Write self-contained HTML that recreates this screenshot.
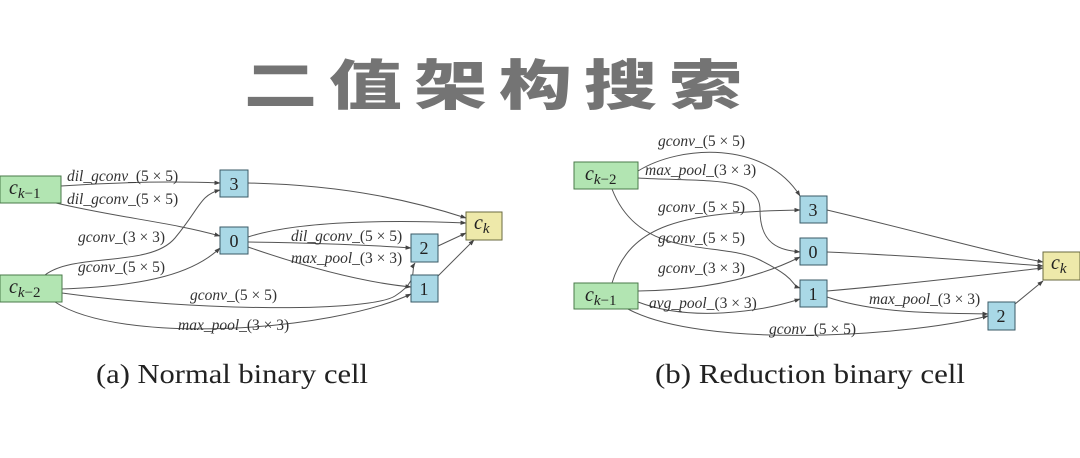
<!DOCTYPE html>
<html><head><meta charset="utf-8"><style>
html,body{margin:0;padding:0;background:#fff;}
body{width:1080px;height:458px;overflow:hidden;position:relative;}
.title{position:absolute;left:244px;top:55px;font-family:"Noto Sans CJK SC","WenQuanYi Zen Hei",sans-serif;font-weight:900;font-size:73px;letter-spacing:12px;color:#747474;line-height:73px;white-space:nowrap;transform:scaleY(0.74);transform-origin:0 0;}
svg{position:absolute;left:0;top:0;}
</style></head><body>
<div class="title">二值架构搜索</div>
<svg width="1080" height="458" viewBox="0 0 1080 458" xmlns="http://www.w3.org/2000/svg">
<defs>
<marker id="a" markerWidth="6" markerHeight="6" refX="5.5" refY="3" orient="auto" markerUnits="userSpaceOnUse">
<path d="M0,0.8 L6,3 L0,5.2 Z" fill="#444"/></marker>
</defs>
<g fill="none" stroke="#555" stroke-width="1" marker-end="url(#a)">
<path d="M61,186 C120,182 170,181 220,183"/>
<path d="M56,203 C120,218 170,222 220,236"/>
<path d="M45,275 C75,252 150,268 175,238 S200,195 220,190"/>
<path d="M62,289 C150,286 195,272 220,248"/>
<path d="M62,293 C200,312 370,312 395,296 S410,270 415,263"/>
<path d="M55,302 C120,345 330,332 411,294"/>
<path d="M248,183 C350,185 420,203 466,218"/>
<path d="M248,237 C300,220 400,220 466,223"/>
<path d="M248,242 C320,243 370,245 411,248"/>
<path d="M248,247 C300,265 360,282 411,287"/>
<path d="M438,246 L466,233"/>
<path d="M438,276 L474,240"/>
<path d="M638,171 C680,145 765,140 800,196"/>
<path d="M638,178 C705,182 760,175 760,210 S780,250 800,252"/>
<path d="M612,189 C640,262 720,240 760,260 S790,285 800,288"/>
<path d="M612,283 C630,225 680,212 800,210"/>
<path d="M638,291 C720,290 770,272 800,257"/>
<path d="M638,302 C690,322 760,312 800,299"/>
<path d="M628,309 C700,348 900,338 988,316"/>
<path d="M827,297 C880,315 950,313 988,314"/>
<path d="M827,210 C920,232 990,252 1043,262"/>
<path d="M827,252 C920,256 990,262 1043,266"/>
<path d="M827,291 C920,283 990,274 1043,268"/>
<path d="M1015,304 L1043,281"/>
</g>
<g stroke-width="1">
<rect x="0" y="176" width="61" height="27" fill="#b2e5b2" stroke="#4a7a4a"/>
<rect x="0" y="275" width="62" height="27" fill="#b2e5b2" stroke="#4a7a4a"/>
<rect x="220" y="170" width="28" height="27" fill="#a9d8e6" stroke="#3a5a66"/>
<rect x="220" y="227" width="28" height="27" fill="#a9d8e6" stroke="#3a5a66"/>
<rect x="411" y="234" width="27" height="28" fill="#a9d8e6" stroke="#3a5a66"/>
<rect x="411" y="275" width="27" height="27" fill="#a9d8e6" stroke="#3a5a66"/>
<rect x="466" y="212" width="36" height="28" fill="#eee9aa" stroke="#6a6a40"/>
<rect x="574" y="162" width="64" height="27" fill="#b2e5b2" stroke="#4a7a4a"/>
<rect x="574" y="283" width="64" height="26" fill="#b2e5b2" stroke="#4a7a4a"/>
<rect x="800" y="196" width="27" height="27" fill="#a9d8e6" stroke="#3a5a66"/>
<rect x="800" y="238" width="27" height="27" fill="#a9d8e6" stroke="#3a5a66"/>
<rect x="800" y="280" width="27" height="27" fill="#a9d8e6" stroke="#3a5a66"/>
<rect x="988" y="302" width="27" height="28" fill="#a9d8e6" stroke="#3a5a66"/>
<rect x="1043" y="252" width="37" height="28" fill="#eee9aa" stroke="#6a6a40"/>
</g>
<g font-family="Liberation Serif, serif" fill="#222" font-size="18" text-anchor="middle">
<text x="234" y="190">3</text><text x="234" y="247">0</text>
<text x="424" y="254">2</text><text x="424" y="295">1</text>
<text x="813" y="216">3</text><text x="813" y="258">0</text>
<text x="813" y="300">1</text><text x="1001" y="322">2</text>
</g>
<g font-family="Liberation Serif, serif" fill="#222" font-style="italic" font-size="20">
<text x="9" y="194">c<tspan font-size="15" dy="4">k</tspan><tspan font-size="15" font-style="normal">−1</tspan></text>
<text x="9" y="293">c<tspan font-size="15" dy="4">k</tspan><tspan font-size="15" font-style="normal">−2</tspan></text>
<text x="474" y="229">c<tspan font-size="15" dy="4">k</tspan></text>
<text x="585" y="180">c<tspan font-size="15" dy="4">k</tspan><tspan font-size="15" font-style="normal">−2</tspan></text>
<text x="585" y="301">c<tspan font-size="15" dy="4">k</tspan><tspan font-size="15" font-style="normal">−1</tspan></text>
<text x="1051" y="269">c<tspan font-size="15" dy="4">k</tspan></text>
</g>
<g font-family="Liberation Serif, serif" fill="#333" font-size="15.5">
<text x="67" y="181"><tspan font-style="italic">dil_gconv_</tspan>(5 × 5)</text>
<text x="67" y="204"><tspan font-style="italic">dil_gconv_</tspan>(5 × 5)</text>
<text x="78" y="242"><tspan font-style="italic">gconv_</tspan>(3 × 3)</text>
<text x="78" y="272"><tspan font-style="italic">gconv_</tspan>(5 × 5)</text>
<text x="291" y="241"><tspan font-style="italic">dil_gconv_</tspan>(5 × 5)</text>
<text x="291" y="263"><tspan font-style="italic">max_pool_</tspan>(3 × 3)</text>
<text x="190" y="300"><tspan font-style="italic">gconv_</tspan>(5 × 5)</text>
<text x="178" y="330"><tspan font-style="italic">max_pool_</tspan>(3 × 3)</text>
<text x="658" y="146"><tspan font-style="italic">gconv_</tspan>(5 × 5)</text>
<text x="645" y="175"><tspan font-style="italic">max_pool_</tspan>(3 × 3)</text>
<text x="658" y="212"><tspan font-style="italic">gconv_</tspan>(5 × 5)</text>
<text x="658" y="243"><tspan font-style="italic">gconv_</tspan>(5 × 5)</text>
<text x="658" y="273"><tspan font-style="italic">gconv_</tspan>(3 × 3)</text>
<text x="649" y="308"><tspan font-style="italic">avg_pool_</tspan>(3 × 3)</text>
<text x="869" y="304"><tspan font-style="italic">max_pool_</tspan>(3 × 3)</text>
<text x="769" y="334"><tspan font-style="italic">gconv_</tspan>(5 × 5)</text>
</g>
<g font-family="Liberation Serif, serif" fill="#222" font-size="27">
<text x="96" y="383" textLength="272" lengthAdjust="spacingAndGlyphs">(a) Normal binary cell</text>
<text x="655" y="383" textLength="310" lengthAdjust="spacingAndGlyphs">(b) Reduction binary cell</text>
</g>
</svg>
</body></html>
